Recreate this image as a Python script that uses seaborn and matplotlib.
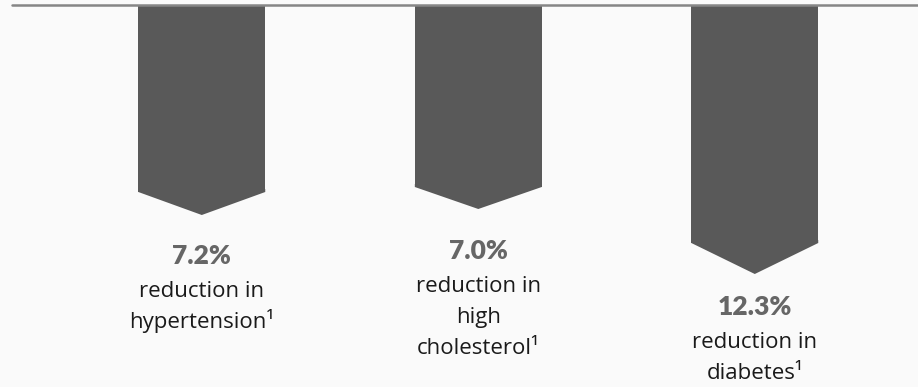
import matplotlib
matplotlib.use("Agg")
import matplotlib.pyplot as plt
from matplotlib.patches import Polygon
import seaborn as sns

# chart data
categories = ["hypertension", "high cholesterol", "diabetes"]
percent_labels = ["7.2%", "7.0%", "12.3%"]
label_lines = [
    ["reduction in", "hypertension\u00b9"],
    ["reduction in", "high", "cholesterol\u00b9"],
    ["reduction in", "diabetes\u00b9"],
]
bar_depth = [186, 181, 237]   # depth of the rectangular part (px-like units)
tip_depth = [23, 22, 31]      # extra depth of the arrow point

bar_color = "#595959"
bg_color = "#fafafa"

sns.set_style("white")
plt.rcParams["font.family"] = ["Open Sans", "DejaVu Sans"]

fig = plt.figure(figsize=(9.18, 3.87), dpi=100, facecolor=bg_color)
ax = fig.add_axes([0, 0, 1, 1], facecolor=bg_color)

sns.barplot(x=categories, y=bar_depth, color=bar_color, saturation=1,
            width=0.459, ax=ax, zorder=2, linewidth=0)

# arrow-shaped ends (overlap the bar a little so no seam shows)
for patch, tip, pct, lines in zip(ax.patches, tip_depth, percent_labels, label_lines):
    x0 = patch.get_x()
    w = patch.get_width()
    h = patch.get_height()
    cx = x0 + w / 2
    ax.add_patch(Polygon([(x0, h - 3), (x0 + w, h - 3), (x0 + w, h),
                          (cx, h + tip), (x0, h)], closed=True,
                         facecolor=bar_color, edgecolor="none", zorder=2))
    y = h + 72
    ax.text(cx, y, pct, ha="center", va="baseline", fontsize=19,
            fontweight="heavy", color="#666666", family=["Lato", "DejaVu Sans"])
    y += 33
    for line in lines:
        ax.text(cx, y, line, ha="center", va="baseline", fontsize=16,
                color="#1a1a1a")
        y += 31

ax.axhline(-1, xmin=12 / 918, xmax=1, color="#868686", lw=1.8, zorder=3)

ax.set_xlim(-0.7298, 2.5903)
ax.set_ylim(381, -6)
ax.set_axis_off()

plt.savefig("out.png", dpi=100, facecolor=bg_color)
